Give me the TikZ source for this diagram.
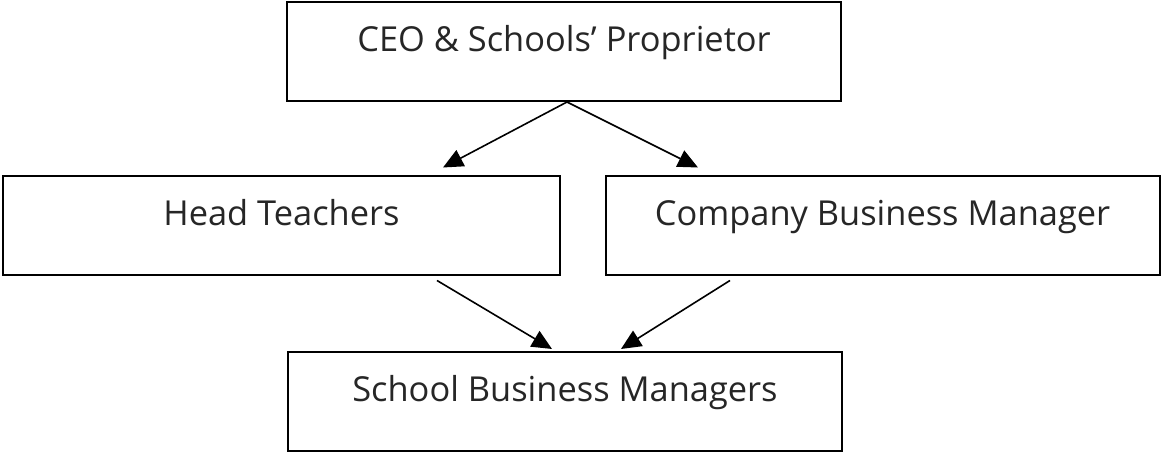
\documentclass[tikz,border=0pt]{standalone}
\usepackage{fontspec}
\setmainfont{Open Sans}
\usetikzlibrary{arrows.meta,calc,positioning}

\begin{document}
\begin{tikzpicture}[x=0.5pt,y=0.5pt]
        \def\boxw{277pt}
        \def\boxh{49.5pt}
        \tikzset{orgbox/.style={rectangle, draw, line width=1pt, minimum width=\boxw, minimum height=\boxh, inner sep=0pt, text height=9pt, text depth=9pt, text=black!85, font=\fontsize{17.2}{20}\selectfont},
                 link/.style={line width=0.8pt, -{Triangle[length=10pt,width=9pt]}}}
        \useasboundingbox (0,0) rectangle (1162,453);

        \node(ceo) [orgbox] at (564,401.5) {CEO \& Schools’ Proprietor};
        \node(head) [orgbox, minimum width=278.5pt] at (281.5,227) {Head Teachers};
        \node(cbm) [orgbox] at (882.5,227) {Company Business Manager};
        \node(sbm) [orgbox] at (565,51.5) {School Business Managers};

        \draw[link] ($(ceo.south)+(3,0)$) -- ($(head.north)+(161.5,8)$);
        \draw[link] ($(ceo.south)+(3,0)$) -- ($(cbm.north)+(-184.5,8)$);
        \draw[link] ($(head.south)+(155.5,-4)$) -- ($(sbm.north)+(-13,2)$);
        \draw[link] ($(cbm.south)+(-152.5,-4)$) -- ($(sbm.north)+(56,2)$);
    \end{tikzpicture}
\end{document}
